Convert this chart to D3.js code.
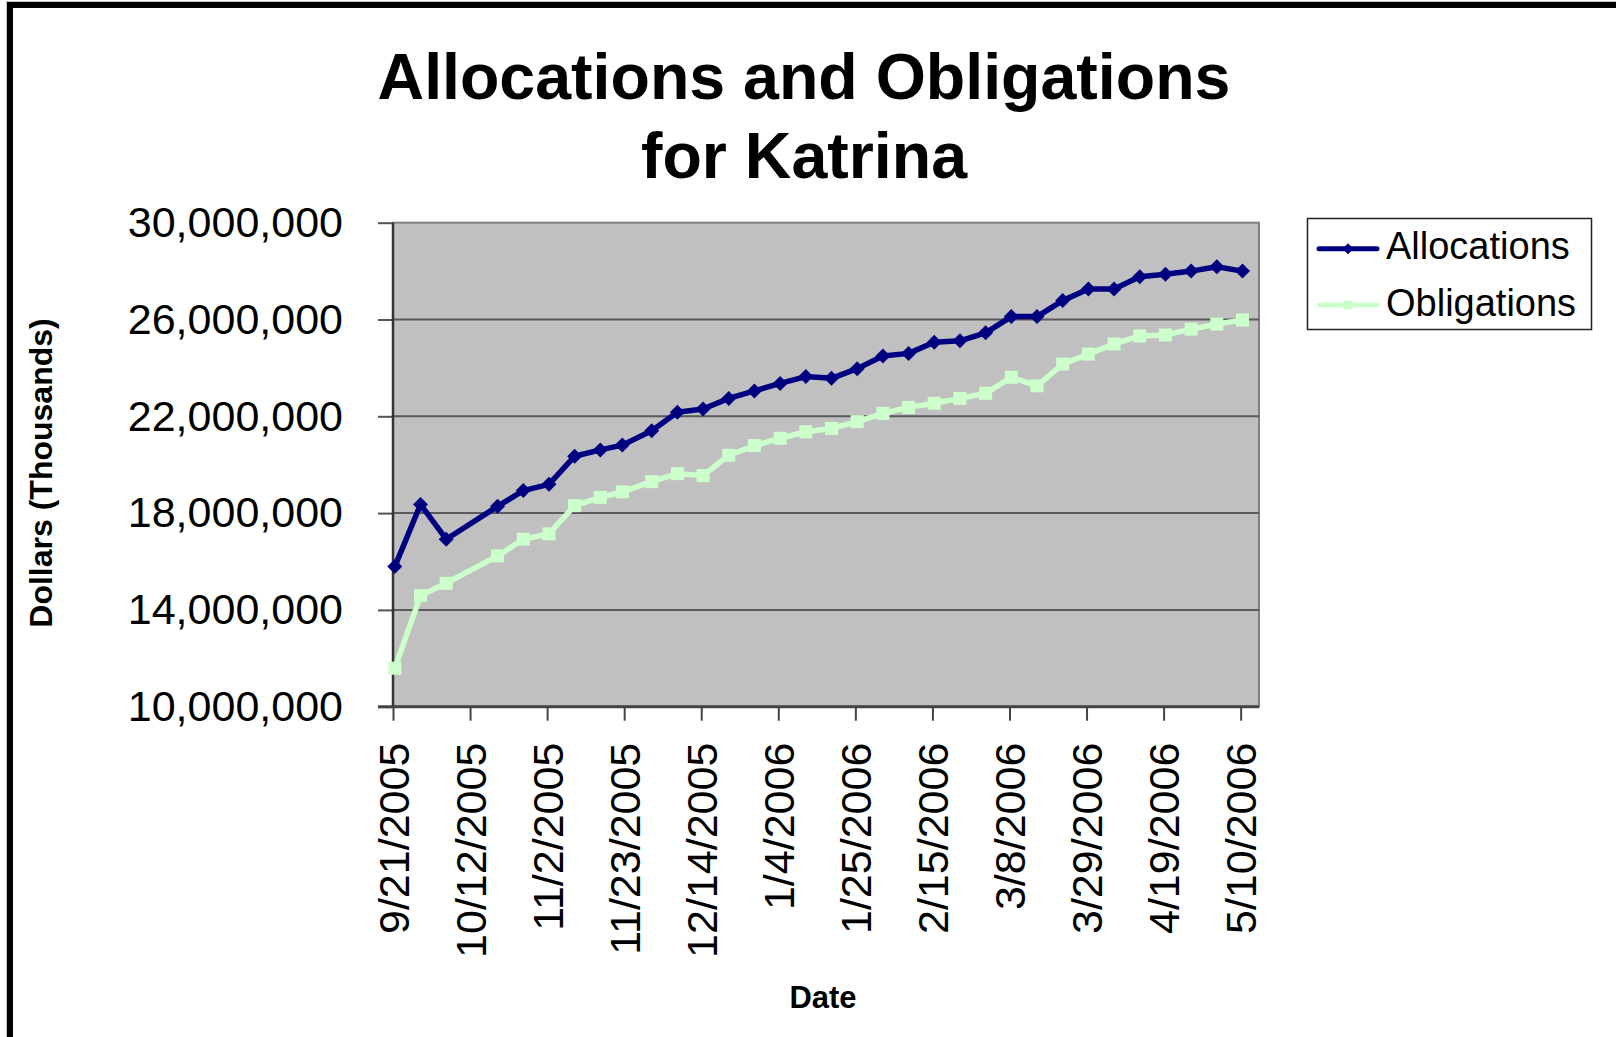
<!DOCTYPE html>
<html>
<head>
<meta charset="utf-8">
<script src="https://cdn.jsdelivr.net/npm/d3@7"></script>
<style>
  html, body { margin: 0; padding: 0; background: #fff; }
  svg { display: block; font-family: "Liberation Sans", Arial, sans-serif; }
</style>
</head>
<body>
<svg id="chart" width="1616" height="1037"></svg>
<script>
// ---- data ----
const dates = ["2005-09-21","2005-09-28","2005-10-05","2005-10-19","2005-10-26","2005-11-02","2005-11-09","2005-11-16","2005-11-22","2005-11-30","2005-12-07","2005-12-14","2005-12-21","2005-12-28","2006-01-04","2006-01-11","2006-01-18","2006-01-25","2006-02-01","2006-02-08","2006-02-15","2006-02-22","2006-03-01","2006-03-08","2006-03-15","2006-03-22","2006-03-29","2006-04-05","2006-04-12","2006-04-19","2006-04-26","2006-05-03","2006-05-10"];
const allocations = [15790000,18360000,16920000,18280000,18930000,19190000,20350000,20610000,20810000,21400000,22170000,22300000,22740000,23050000,23360000,23640000,23570000,23970000,24490000,24600000,25060000,25120000,25450000,26120000,26120000,26780000,27260000,27260000,27770000,27870000,28000000,28180000,28000000];
const obligations = [11590000,14590000,15100000,16230000,16920000,17140000,18310000,18650000,18880000,19300000,19630000,19550000,20390000,20790000,21090000,21360000,21500000,21780000,22120000,22370000,22540000,22740000,22950000,23610000,23260000,24160000,24570000,24990000,25320000,25360000,25600000,25810000,25980000];
const xTickLabels = ["9/21/2005","10/12/2005","11/2/2005","11/23/2005","12/14/2005","1/4/2006","1/25/2006","2/15/2006","3/8/2006","3/29/2006","4/19/2006","5/10/2006"];
const yTickValues = [10000000,14000000,18000000,22000000,26000000,30000000];
const xDomain = ["2005-09-21","2006-05-15"];
const seriesNames = ["Allocations","Obligations"];

// ---- setup ----
const svg = d3.select("#chart");
const parseISO = d3.utcParse("%Y-%m-%d");
const parseMDY = d3.utcParse("%m/%d/%Y");
const plot = {left: 393, right: 1259, top: 222.7, bottom: 706.7};

const x = d3.scaleUtc().domain(xDomain.map(parseISO)).range([plot.left, plot.right]);
const y = d3.scaleLinear().domain([10000000, 30000000]).range([plot.bottom, plot.top]);
const halfDay = 12 * 3600 * 1000;
const xp = d => x(new Date(parseISO(d).getTime() + halfDay));

// outer frame
svg.append("rect").attr("x", 6.5).attr("y", 1.5).attr("width", 1700).attr("height", 1100)
  .attr("fill", "none").attr("stroke", "#c8c8c8").attr("stroke-width", 1);
svg.append("rect").attr("x", 10).attr("y", 5).attr("width", 1700).attr("height", 1100)
  .attr("fill", "none").attr("stroke", "#000").attr("stroke-width", 6);

// title
const title = svg.append("text").attr("text-anchor", "middle")
  .attr("font-weight", "bold").attr("font-size", 64.5).attr("fill", "#000");
title.append("tspan").attr("x", 804).attr("y", 99).text("Allocations and Obligations");
title.append("tspan").attr("x", 804).attr("y", 178).text("for Katrina");

// plot background
svg.append("rect").attr("x", plot.left).attr("y", plot.top)
  .attr("width", plot.right - plot.left).attr("height", plot.bottom - plot.top)
  .attr("fill", "#c0c0c0").attr("stroke", "#808080").attr("stroke-width", 2);

// gridlines
svg.append("g").selectAll("line")
  .data(yTickValues.filter(v => v > 10000000 && v < 30000000))
  .join("line")
  .attr("x1", plot.left).attr("x2", plot.right)
  .attr("y1", d => y(d)).attr("y2", d => y(d))
  .attr("stroke", "#5a5a5a").attr("stroke-width", 2);

// y axis
const yAxis = svg.append("g").attr("transform", `translate(${plot.left},0)`)
  .call(d3.axisLeft(y).tickValues(yTickValues).tickFormat(d3.format(",")).tickSize(15).tickPadding(35));
yAxis.select(".domain").remove();
yAxis.selectAll(".tick line").attr("stroke", "#555").attr("stroke-width", 2);
yAxis.selectAll(".tick text").attr("font-size", 43).attr("fill", "#000")
  .attr("font-family", "Liberation Sans, Arial, sans-serif");
svg.append("line").attr("x1", plot.left).attr("x2", plot.left)
  .attr("y1", plot.top).attr("y2", plot.bottom).attr("stroke", "#333").attr("stroke-width", 2.5);

// x axis
const xAxis = svg.append("g").attr("transform", `translate(0,${plot.bottom})`)
  .call(d3.axisBottom(x).tickValues(xTickLabels.map(parseMDY))
    .tickFormat((d, i) => xTickLabels[i]).tickSize(14));
xAxis.select(".domain").remove();
xAxis.selectAll(".tick line").attr("stroke", "#444").attr("stroke-width", 2);
xAxis.selectAll(".tick text")
  .attr("transform", "rotate(-90)")
  .attr("x", -36).attr("y", 0).attr("dy", "0.35em")
  .attr("text-anchor", "end")
  .attr("font-size", 43).attr("fill", "#000")
  .attr("font-family", "Liberation Sans, Arial, sans-serif");
svg.append("line").attr("x1", 378).attr("x2", plot.right)
  .attr("y1", plot.bottom).attr("y2", plot.bottom).attr("stroke", "#444").attr("stroke-width", 3);

// axis titles
svg.append("text").attr("transform", "translate(52,473) rotate(-90)")
  .attr("text-anchor", "middle").attr("font-weight", "bold").attr("font-size", 32)
  .text("Dollars (Thousands)");
svg.append("text").attr("x", 823).attr("y", 1008)
  .attr("text-anchor", "middle").attr("font-weight", "bold").attr("font-size", 31)
  .text("Date");

// series
const colors = ["#000080", "#ccffcc"];
const line = d3.line().x(d => xp(d.date)).y(d => y(d.value));
const series = [allocations, obligations].map(vals => vals.map((v, i) => ({date: dates[i], value: v})));
const diamond = "M0,-7.5L7.5,0L0,7.5L-7.5,0Z";

series.forEach((data, si) => {
  svg.append("path").datum(data).attr("d", line)
    .attr("fill", "none").attr("stroke", colors[si]).attr("stroke-width", 5.5)
    .attr("stroke-linejoin", "round");
  const g = svg.append("g");
  if (si === 0) {
    g.selectAll("path").data(data).join("path")
      .attr("d", diamond)
      .attr("transform", d => `translate(${xp(d.date)},${y(d.value)})`)
      .attr("fill", colors[si]);
  } else {
    g.selectAll("rect").data(data).join("rect")
      .attr("x", d => xp(d.date) - 6.5).attr("y", d => y(d.value) - 6.5)
      .attr("width", 13).attr("height", 13)
      .attr("fill", colors[si]);
  }
});

// legend
const lg = svg.append("g");
lg.append("rect").attr("x", 1307.5).attr("y", 218.5).attr("width", 284).attr("height", 111)
  .attr("fill", "#fff").attr("stroke", "#222").attr("stroke-width", 1.5);
const legendY = [248.7, 305];
seriesNames.forEach((name, i) => {
  lg.append("line").attr("x1", 1319).attr("x2", 1377)
    .attr("y1", legendY[i]).attr("y2", legendY[i])
    .attr("stroke", colors[i]).attr("stroke-width", 5).attr("stroke-linecap", "round");
  if (i === 0) {
    lg.append("path").attr("d", "M0,-5.5L5.5,0L0,5.5L-5.5,0Z")
      .attr("transform", `translate(1348,${legendY[i]})`).attr("fill", colors[i]);
  } else {
    lg.append("rect").attr("x", 1343.5).attr("y", legendY[i] - 4.5).attr("width", 9).attr("height", 9)
      .attr("fill", colors[i]);
  }
  lg.append("text").attr("x", 1386).attr("y", legendY[i] + 10.5)
    .attr("font-size", 38).attr("fill", "#000").text(name);
});
</script>
</body>
</html>
